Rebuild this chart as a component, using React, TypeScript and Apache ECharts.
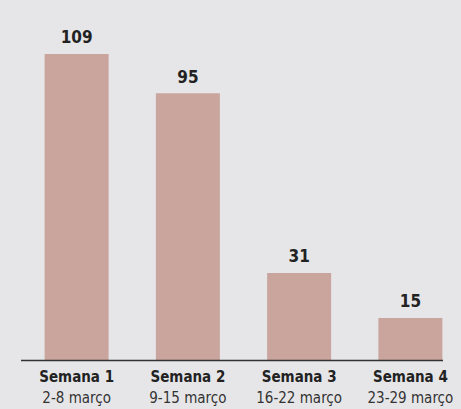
import React, { useEffect, useRef } from "react";
import * as echarts from "echarts";

const weeks = ["Semana 1", "Semana 2", "Semana 3", "Semana 4"];
const dates = ["2-8 março", "9-15 março", "16-22 março", "23-29 março"];
const values = [109, 95, 31, 15];

const FONT = "'Liberation Sans Narrow', 'DejaVu Sans Condensed', 'Roboto Condensed', sans-serif";

export default function App() {
  const ref = useRef<HTMLDivElement>(null);
  useEffect(() => {
    document.body.style.margin = "0";
    document.body.style.background = "#e6e6e8";
    const chart = echarts.init(ref.current!, null, { renderer: "svg" });
    chart.setOption({
      animation: false,
      backgroundColor: "#e6e6e8",
      grid: {
        left: 21,
        top: 23,
        width: 445,
        height: 337,
        containLabel: false,
        outerBoundsMode: "none",
      },
      xAxis: {
        type: "category",
        data: weeks,
        axisLine: { show: false },
        axisTick: { show: false },
        axisLabel: {
          margin: 6,
          interval: 0,
          hideOverlap: false,
          formatter: (v: string, i: number) => `{a|${v}}\n{b|${dates[i]}}`,
          rich: {
            a: { fontFamily: FONT, fontSize: 15, fontWeight: "bold", color: "#222", lineHeight: 21 },
            b: { fontFamily: FONT, fontSize: 15, color: "#333", lineHeight: 21 },
          },
        },
      },
      yAxis: {
        type: "value",
        min: 0,
        max: 120,
        show: false,
        splitLine: { show: false },
      },
      graphic: [
        {
          type: "line",
          shape: { x1: 21, y1: 360.5, x2: 443, y2: 360.5 },
          style: { stroke: "#333", lineWidth: 1.5 },
          z: 100,
        },
      ],
      series: [
        {
          type: "bar",
          data: values,
          barWidth: 64,
          itemStyle: { color: "#c9a59e" },
          label: {
            show: true,
            position: "top",
            distance: 8,
            fontFamily: FONT,
            fontSize: 17,
            fontWeight: "bold",
            color: "#222",
          },
        },
      ],
    });
    return () => chart.dispose();
  }, []);
  return <div ref={ref} style={{ width: 461, height: 409 }} />;
}
